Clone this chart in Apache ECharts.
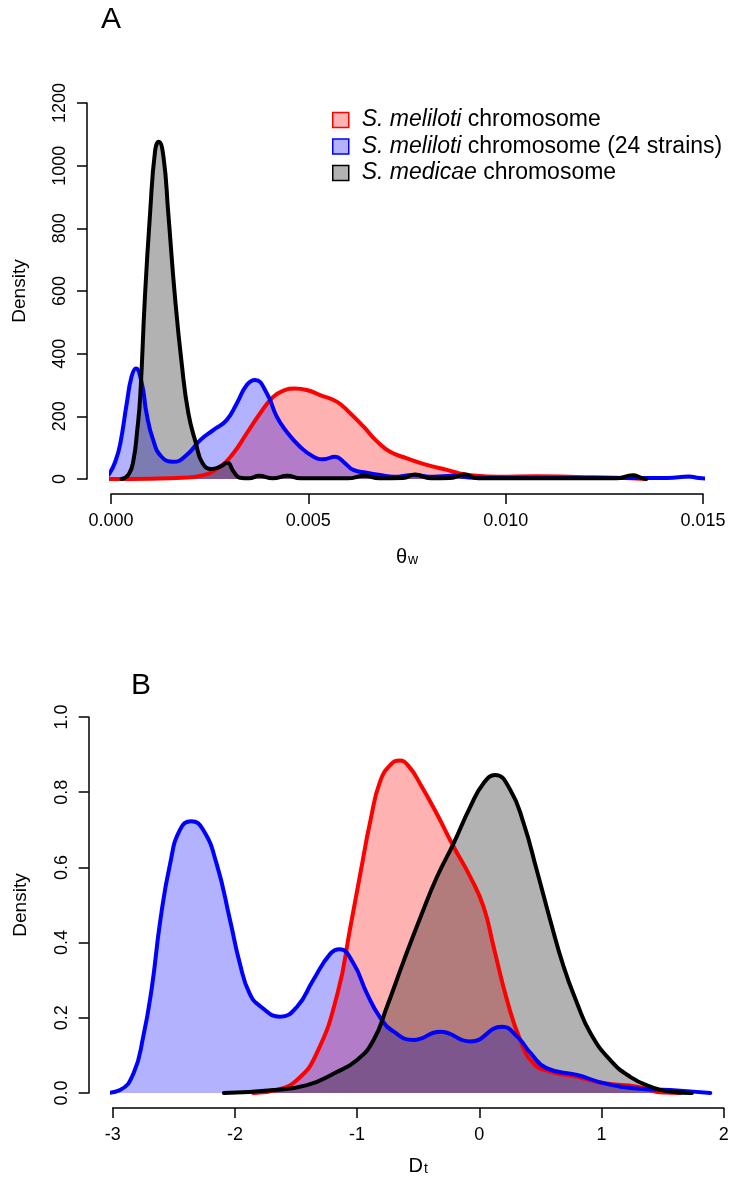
<!DOCTYPE html>
<html>
<head>
<meta charset="utf-8">
<script src="https://cdn.jsdelivr.net/npm/echarts@6/dist/echarts.min.js"></script>
<style>html,body{margin:0;padding:0;background:#fff}#c{width:752px;height:1186px}</style>
</head>
<body>
<div id="c"></div>
<script>
// ---------- DATA ----------
const seriesNames = ['S. meliloti chromosome', 'S. meliloti chromosome (24 strains)', 'S. medicae chromosome'];
const thetaTicksX = [0, 0.005, 0.010, 0.015];
const thetaTicksY = [0, 200, 400, 600, 800, 1000, 1200];
const dtTicksX = [-3, -2, -1, 0, 1, 2];
const dtTicksY = [0, 0.2, 0.4, 0.6, 0.8, 1.0];

// Panel A: theta_w densities [x, density]
const thetaRed = [[-0.00003,0],[0.001,1],[0.0018,4],[0.00226,10],[0.00276,39],[0.0031,82],[0.00344,146],[0.00378,210],[0.00411,262],[0.00437,282],[0.00466,289],[0.00496,284],[0.0053,268],[0.00572,247],[0.00606,210],[0.0064,167],[0.00674,120],[0.00707,87],[0.0075,66],[0.008,45],[0.00851,29],[0.00883,18],[0.00925,10],[0.0098,7],[0.0108,9],[0.0118,6],[0.0128,4],[0.01356,0]];
const thetaBlue = [[-0.00036,0],[-0.00015,5],[-0.00003,19],[0.00012,60],[0.00023,110],[0.0004,242],[0.00052,326],[0.00063,353],[0.00078,306],[0.0009,210],[0.00107,124],[0.00128,71],[0.00158,55],[0.00192,77],[0.00226,124],[0.00259,156],[0.00293,188],[0.00319,242],[0.00344,300],[0.00365,316],[0.00395,273],[0.0042,199],[0.00445,151],[0.00479,103],[0.00513,71],[0.00538,63],[0.00568,71],[0.00589,55],[0.00614,29],[0.00648,20],[0.00682,13],[0.00716,7],[0.00766,13],[0.00817,7],[0.00866,10],[0.0092,4],[0.011,3],[0.0135,3],[0.0141,3],[0.01465,8],[0.0149,3],[0.0153,0]];
const thetaBlack = [[0.00027,0],[0.00045,15],[0.00057,61],[0.00066,150],[0.00074,263],[0.00086,582],[0.00099,848],[0.00112,1050],[0.00121,1076],[0.00133,1028],[0.00145,850],[0.00162,582],[0.00179,370],[0.00196,210],[0.00215,115],[0.00232,50],[0.00255,32],[0.00278,40],[0.00295,52],[0.0031,25],[0.00327,4],[0.0035,2],[0.00375,10],[0.0041,2],[0.00447,10],[0.0048,2],[0.006,2],[0.00642,10],[0.0068,2],[0.0074,3],[0.0077,14],[0.0081,2],[0.0086,3],[0.00895,14],[0.0093,2],[0.0128,2],[0.01322,12],[0.01345,3],[0.01356,0]];

// Panel B: D_t densities [x, density]
const dtRed = [[-1.85,0],[-1.66,0.008],[-1.49,0.035],[-1.33,0.106],[-1.16,0.265],[-1.056,0.44],[-0.97,0.59],[-0.89,0.726],[-0.81,0.83],[-0.72,0.875],[-0.652,0.884],[-0.58,0.87],[-0.48,0.82],[-0.35,0.744],[-0.21,0.655],[-0.074,0.575],[0.035,0.495],[0.117,0.389],[0.227,0.247],[0.335,0.141],[0.444,0.079],[0.58,0.057],[0.80,0.043],[1.02,0.026],[1.29,0.017],[1.51,0.001],[1.64,0]];
const dtBlue = [[-3.06,0],[-2.94,0.008],[-2.83,0.052],[-2.75,0.15],[-2.68,0.28],[-2.61,0.46],[-2.53,0.61],[-2.45,0.70],[-2.357,0.723],[-2.26,0.70],[-2.15,0.61],[-2.04,0.46],[-1.96,0.345],[-1.88,0.265],[-1.79,0.23],[-1.63,0.203],[-1.49,0.23],[-1.36,0.30],[-1.22,0.37],[-1.143,0.382],[-1.03,0.345],[-0.92,0.265],[-0.81,0.20],[-0.70,0.163],[-0.54,0.141],[-0.32,0.163],[-0.074,0.137],[0.186,0.176],[0.31,0.15],[0.42,0.106],[0.55,0.066],[0.80,0.048],[1.02,0.026],[1.29,0.012],[1.56,0.008],[1.89,0]];
const dtBlack = [[-2.09,0],[-1.68,0.008],[-1.41,0.021],[-1.19,0.052],[-1.0,0.088],[-0.865,0.141],[-0.755,0.23],[-0.62,0.35],[-0.48,0.469],[-0.346,0.575],[-0.21,0.664],[-0.074,0.761],[0.035,0.824],[0.13,0.846],[0.254,0.806],[0.363,0.717],[0.47,0.593],[0.58,0.46],[0.69,0.336],[0.80,0.239],[0.91,0.159],[1.07,0.088],[1.235,0.043],[1.40,0.017],[1.56,0.004],[1.74,0]];

// ---------- STYLE ----------
const FONT = '"Liberation Sans", Arial, Helvetica, sans-serif';
const lineColors = ['#ff0000', '#0000ff', '#000000'];
const fillColors = ['rgba(255,0,0,0.3)', 'rgba(0,0,255,0.3)', 'rgba(0,0,0,0.3)'];

function mkSeries(idx, data, gi) {
  return {
    type: 'line', name: seriesNames[idx], xAxisIndex: gi, yAxisIndex: gi,
    data: data, smooth: 0.5, symbol: 'none', showSymbol: false,
    clip: false, silent: true,
    lineStyle: { color: lineColors[idx], width: 4, cap: 'round', join: 'round' },
    itemStyle: { color: lineColors[idx] },
    areaStyle: { color: fillColors[idx], opacity: 1 },
    emphasis: { disabled: true }
  };
}

function mkX(gi, ticks, fmt, nameRich, nameText, gap) {
  return {
    type: 'value', gridIndex: gi, min: ticks[0], max: ticks[ticks.length - 1],
    interval: ticks[1] - ticks[0], offset: 15,
    axisLine: { show: true, onZero: false, lineStyle: { color: '#000', width: 1.5 } },
    axisTick: { show: true, length: 10, lineStyle: { color: '#000', width: 1.5 } },
    axisLabel: { formatter: fmt, fontSize: 18, color: '#000', fontFamily: FONT, margin: 18 },
    splitLine: { show: false },
    name: nameText, nameLocation: 'middle', nameGap: gap,
    nameTextStyle: { color: '#000', fontFamily: FONT, fontSize: 19, rich: nameRich }
  };
}
function mkY(gi, ticks, fmt) {
  return {
    type: 'value', gridIndex: gi, min: ticks[0], max: ticks[ticks.length - 1],
    interval: ticks[1] - ticks[0], offset: 24,
    axisLine: { show: true, onZero: false, lineStyle: { color: '#000', width: 1.5 } },
    axisTick: { show: true, length: 10, lineStyle: { color: '#000', width: 1.5 } },
    axisLabel: { formatter: fmt, fontSize: 18, color: '#000', fontFamily: FONT, margin: 18, rotate: 90 },
    splitLine: { show: false },
    name: 'Density', nameLocation: 'middle', nameGap: 58,
    nameTextStyle: { color: '#000', fontFamily: FONT, fontSize: 19 }
  };
}

const subRich = {
  m: { fontSize: 20, fontFamily: FONT, color: '#000', verticalAlign: 'bottom' },
  s: { fontSize: 14, fontFamily: FONT, color: '#000', padding: [8, 0, 0, 1] }
};

const chart = echarts.init(document.getElementById('c'), null, { renderer: 'canvas' });
chart.setOption({
  animation: false,
  backgroundColor: '#fff',
  textStyle: { fontFamily: FONT },
  grid: [
    { left: 111, right: 49, top: 103, bottom: 707 },
    { left: 112.7, right: 28.3, top: 717, bottom: 93 }
  ],
  xAxis: [
    mkX(0, thetaTicksX, v => v.toFixed(3), subRich, '{m|θ}{s|w}', 51),
    mkX(1, dtTicksX, v => String(v), subRich, '{m|D}{s|t}', 46)
  ],
  yAxis: [
    mkY(0, thetaTicksY, v => String(v)),
    mkY(1, dtTicksY, v => v.toFixed(1))
  ],
  legend: {
    orient: 'vertical', left: 327, top: 102, itemWidth: 16, itemHeight: 15, itemGap: 0.5,
    selectedMode: false,
    data: seriesNames.map((n, i) => ({
      name: n, icon: 'rect',
      itemStyle: { color: fillColors[i], borderColor: lineColors[i], borderWidth: 1.5 }
    })),
    formatter: name => name.replace(/^(S\. \w+)/, '{i|$1}'),
    textStyle: {
      fontSize: 23, color: '#000', fontFamily: FONT, lineHeight: 26, padding: [0, 0, 0, 8],
      rich: { i: { fontStyle: 'italic', fontSize: 23, fontFamily: FONT, color: '#000', lineHeight: 26 } }
    }
  },
  graphic: [
    { type: 'text', left: 101, top: 5, style: { text: 'A', fontSize: 30, fontFamily: FONT, fill: '#000' } },
    { type: 'text', left: 131, top: 671, style: { text: 'B', fontSize: 30, fontFamily: FONT, fill: '#000' } }
  ],
  series: [
    mkSeries(0, thetaRed, 0),
    mkSeries(1, thetaBlue, 0),
    mkSeries(2, thetaBlack, 0),
    mkSeries(0, dtRed, 1),
    mkSeries(1, dtBlue, 1),
    mkSeries(2, dtBlack, 1)
  ]
});
</script>
</body>
</html>
